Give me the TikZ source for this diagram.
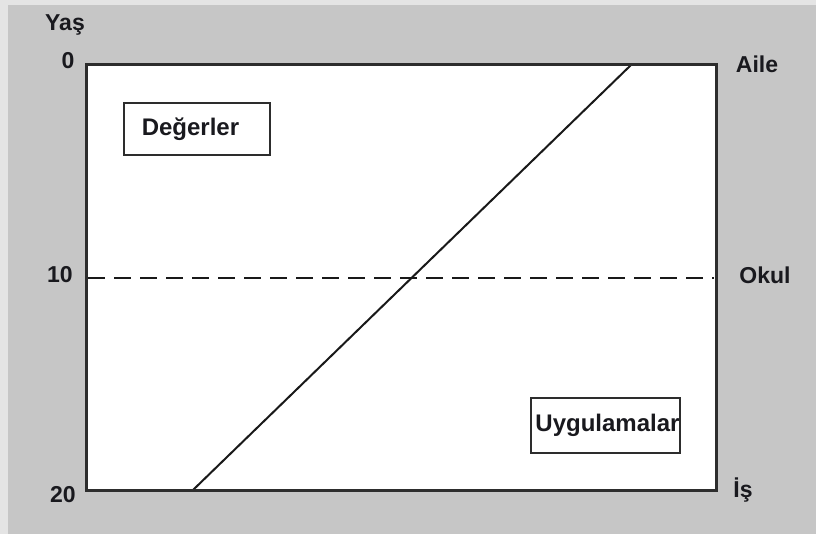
\documentclass[tikz,border=0pt]{standalone}
\usepackage{fontspec}
\setmainfont{Liberation Sans}
\definecolor{bggray}{RGB}{198,198,198}
\definecolor{edgegray}{RGB}{228,228,228}
\definecolor{framecol}{RGB}{45,45,45}
\definecolor{txtcol}{RGB}{25,25,30}
\begin{document}
\begin{tikzpicture}[x=1pt,y=-1pt,
  lbl/.style={font=\fontsize{23}{26}\selectfont\bfseries, text=txtcol, inner sep=0pt},
  boxlbl/.style={draw=framecol, line width=2pt, fill=white, inner sep=0pt,
     font=\fontsize{24}{26}\selectfont\bfseries, text=txtcol},
  frame/.style={draw=framecol, line width=3pt},
  diag/.style={draw=black!90, line width=2pt},
  dashline/.style={draw=black!90, line width=2pt, dash pattern=on 17pt off 9pt}]
\useasboundingbox (0,0) rectangle (816,534);
\fill[edgegray] (0,0) rectangle (816,534);
\fill[bggray] (8,5) rectangle (816,534);
% plot area
\coordinate (tl) at (86,65);
\coordinate (tr) at (716,65);
\coordinate (bl) at (86,490);
\coordinate (br) at (716,490);
\fill[white] (tl) rectangle (br);
% dashed line at 10
\coordinate (dl) at (88,278);
\coordinate (dr) at (714,278);
\draw[dashline] (dl) -- (dr);
% diagonal
\coordinate (dtop) at (631,65);
\coordinate (dbot) at (193,490);
\draw[diag] (dbot) -- (dtop);
\draw[frame] (tl) rectangle (br);
% boxes
\node[boxlbl, minimum width=146pt, minimum height=52pt] (deg) at (196.5,129) {\raisebox{2pt}{Değerler\hspace{12pt}}};
\node[boxlbl, minimum width=147pt, minimum height=55pt] (uyg) at (605.5,425.5) {\raisebox{2.5pt}{\hspace{4pt}Uygulamalar}};
% axis labels
\node[lbl] (yas) at (65,25) {Yaş};
\node[lbl] (y0) at (68,61) {0};
\node[lbl] (y10) at (60,275) {10};
\node[lbl] (y20) at (63,495) {20};
\node[lbl] (aile) at (757,64) {Aile};
\node[lbl] (okul) at (765,275) {Okul};
\node[lbl] (is) at (743,490) {İş};
\end{tikzpicture}
\end{document}
